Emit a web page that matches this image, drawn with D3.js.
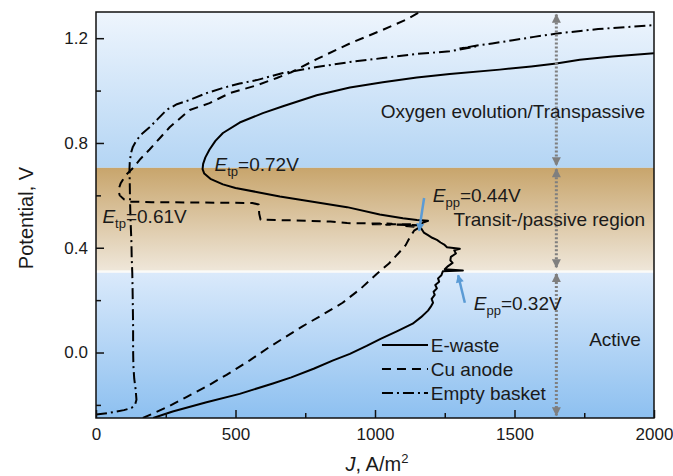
<!DOCTYPE html>
<html>
<head>
<meta charset="utf-8">
<script src="https://cdn.jsdelivr.net/npm/d3@7/dist/d3.min.js"></script>
<style>
  body { margin: 0; background: #fff; }
  text { font-family: "Liberation Sans", Arial, sans-serif; fill: #1a1a1a; }
</style>
</head>
<body>
<div id="chart"></div>
<script>
// polarisation curves, [J (A/m2), potential (V)]
var eWaste = [[205,-0.25],[275,-0.225],[396,-0.19],[515,-0.158],[634,-0.118],[700,-0.095],[780,-0.062],[850,-0.03],
  [910,-0.005],[970,0.025],[1020,0.052],[1080,0.082],[1135,0.11],[1165,0.135],[1190,0.16],[1200,0.175],[1208,0.19],
  [1203,0.205],[1214,0.22],[1210,0.232],[1222,0.245],[1216,0.258],[1230,0.27],[1226,0.283],[1238,0.295],[1243,0.31],
  [1315,0.313],[1250,0.318],[1262,0.33],[1278,0.342],[1270,0.352],[1272,0.365],[1290,0.378],[1284,0.39],[1304,0.396],
  [1258,0.402],[1248,0.412],[1235,0.42],[1222,0.43],[1205,0.438],[1190,0.448],[1175,0.458],[1168,0.47],[1160,0.482],
  [1170,0.495],[1190,0.503],[1150,0.506],[1100,0.513],[1017,0.527],[900,0.555],[777,0.576],[659,0.596],[575,0.613],
  [500,0.628],[455,0.642],[410,0.663],[388,0.683],[382,0.7],[384,0.72],[392,0.745],[407,0.775],[428,0.808],[455,0.838],
  [515,0.878],[598,0.914],[670,0.94],[791,0.982],[910,1.012],[1028,1.032],[1150,1.05],[1268,1.063],[1447,1.08],
  [1560,1.092],[1650,1.103],[1734,1.118],[1850,1.13],[2000,1.143]];

var cuAnode = [[168,-0.25],[252,-0.21],[324,-0.17],[396,-0.13],[468,-0.085],[551,-0.03],[620,0.02],[680,0.06],
  [740,0.1],[802,0.138],[884,0.19],[950,0.245],[1006,0.3],[1050,0.34],[1085,0.38],[1110,0.41],[1125,0.44],[1140,0.465],
  [1160,0.478],[1100,0.484],[1165,0.486],[1040,0.488],[1130,0.49],[980,0.49],[1060,0.492],[900,0.494],[840,0.5],
  [760,0.503],[680,0.505],[590,0.507],[585,0.53],[583,0.565],[560,0.571],[450,0.572],[320,0.573],[200,0.574],
  [125,0.576],[100,0.585],[85,0.6],[80,0.62],[88,0.645],[105,0.675],[133,0.705],[160,0.74],[192,0.775],[230,0.82],
  [264,0.86],[336,0.926],[407,0.952],[479,0.99],[576,1.02],[648,1.048],[700,1.07],[791,1.12],[910,1.18],[1028,1.232],
  [1114,1.272],[1160,1.3]];

var emptyBasket = [[0,-0.237],[40,-0.232],[100,-0.22],[127,-0.212],[140,-0.2],[145,-0.18],[142,-0.14],[137,-0.1],
  [134,-0.05],[133,0.01],[133,0.1],[132,0.175],[131,0.25],[130,0.305],[128,0.36],[127,0.42],[124,0.5],[122,0.58],
  [121,0.65],[120,0.7],[121,0.725],[125,0.76],[132,0.785],[145,0.81],[165,0.835],[192,0.86],[220,0.89],[253,0.926],
  [290,0.948],[335,0.964],[395,0.99],[455,1.01],[515,1.027],[576,1.04],[670,1.067],[791,1.09],[910,1.109],[1028,1.124],
  [1150,1.14],[1268,1.15],[1360,1.168],[1300,1.16],[1366,1.172],[1420,1.18],[1494,1.192],[1570,1.205],[1652,1.218],
  [1800,1.235],[2000,1.25]];

var seriesNames = ["E-waste", "Cu anode", "Empty basket"];
var xTicks = [0, 500, 1000, 1500, 2000];
var xMinor = [250, 750, 1250, 1750];
var yTicks = [0.0, 0.4, 0.8, 1.2];
var yMinor = [-0.2, 0.2, 0.6, 1.0];

// region limits (V) and where the range arrows sit
var regionTop = 0.705, regionBottom = 0.31;
var rangeJ = 1650;

var margin = {top: 12, right: 19, bottom: 58, left: 96},
    width = 673 - margin.left - margin.right,
    height = 476 - margin.top - margin.bottom;

var svg = d3.select("#chart").append("svg")
    .attr("width", 673)
    .attr("height", 476);

var defs = svg.append("defs");

function grad(id, c0, c1) {
  var g = defs.append("linearGradient").attr("id", id)
      .attr("x1", 0).attr("y1", 0).attr("x2", 0).attr("y2", 1);
  g.append("stop").attr("offset", "0%").attr("stop-color", c0);
  g.append("stop").attr("offset", "100%").attr("stop-color", c1);
}
grad("gUpper", "#eef5fd", "#b4d5f4");
grad("gBand", "#c8a56c", "#efe7da");
grad("gLower", "#dbeafb", "#8dc0f0");

defs.append("clipPath").attr("id", "plotClip")
  .append("rect").attr("width", width).attr("height", height);

function arrowMarker(id, color, w, h) {
  defs.append("marker").attr("id", id)
      .attr("viewBox", "0 0 10 10").attr("refX", 9).attr("refY", 5)
      .attr("markerUnits", "userSpaceOnUse")
      .attr("markerWidth", w).attr("markerHeight", h)
      .attr("orient", "auto-start-reverse")
    .append("path").attr("d", "M0,0L10,5L0,10Z").attr("fill", color);
}
arrowMarker("arrGray", "#7f7f7f", 10, 9);
arrowMarker("arrBlue", "#5b9bd5", 9, 8);

var g_body = svg.append("g").attr("transform", "translate(" + margin.left + "," + margin.top + ")");

var x = d3.scaleLinear().domain([0, 2000]).range([0, width]);
var y = d3.scaleLinear().domain([-0.25, 1.3]).range([height, 0]);

// background regions
g_body.append("rect").attr("x", 0).attr("width", width)
    .attr("y", 0).attr("height", y(regionTop)).attr("fill", "url(#gUpper)");
g_body.append("rect").attr("x", 0).attr("width", width)
    .attr("y", y(regionTop)).attr("height", y(regionBottom) - y(regionTop)).attr("fill", "url(#gBand)");
g_body.append("rect").attr("x", 0).attr("width", width)
    .attr("y", y(regionBottom)).attr("height", height - y(regionBottom)).attr("fill", "url(#gLower)");
g_body.append("rect").attr("x", 0).attr("width", width)
    .attr("y", y(regionBottom) - 1).attr("height", 2.5).attr("fill", "#fbfbf8");

// curves
var line = d3.line().x(function(d) { return x(d[0]); }).y(function(d) { return y(d[1]); });
var styles = [
  {data: eWaste, dash: null},
  {data: cuAnode, dash: "9,6"},
  {data: emptyBasket, dash: "11,4,2,4"}
];
var curves = g_body.append("g").attr("clip-path", "url(#plotClip)");
styles.forEach(function(s) {
  curves.append("path").datum(s.data)
      .attr("d", line)
      .attr("fill", "none")
      .attr("stroke", "#000")
      .attr("stroke-width", 2)
      .attr("stroke-linejoin", "round")
      .attr("stroke-dasharray", s.dash);
});

// gray dotted range arrows
var ranges = [[1.29, regionTop + 0.01], [regionTop - 0.005, regionBottom + 0.015], [regionBottom - 0.01, -0.24]];
ranges.forEach(function(r) {
  g_body.append("line")
      .attr("x1", x(rangeJ)).attr("x2", x(rangeJ))
      .attr("y1", y(r[0])).attr("y2", y(r[1]))
      .attr("stroke", "#7f7f7f").attr("stroke-width", 3)
      .attr("stroke-dasharray", "2,2")
      .attr("marker-start", "url(#arrGray)")
      .attr("marker-end", "url(#arrGray)");
});

// blue arrows at passivation potentials
var blueArrows = [[[1176, 0.59], [1158, 0.465]], [[1322, 0.19], [1298, 0.295]]];
blueArrows.forEach(function(a) {
  g_body.append("line")
      .attr("x1", x(a[0][0])).attr("y1", y(a[0][1]))
      .attr("x2", x(a[1][0])).attr("y2", y(a[1][1]))
      .attr("stroke", "#5b9bd5").attr("stroke-width", 2.5)
      .attr("marker-end", "url(#arrBlue)");
});

// region labels
function label(txt, j, v, anchor) {
  g_body.append("text").attr("x", x(j)).attr("y", y(v))
      .attr("font-size", 19).attr("text-anchor", anchor).text(txt);
}
label("Oxygen evolution/Transpassive", 1968, 0.895, "end");
label("Transit-/passive region", 1968, 0.482, "end");
label("Active", 1953, 0.023, "end");

// potential labels with subscripts
function eLabel(sub, val, j, v) {
  var t = g_body.append("text").attr("x", x(j)).attr("y", y(v)).attr("font-size", 19);
  t.append("tspan").attr("font-style", "italic").text("E");
  t.append("tspan").attr("font-size", 13).attr("dy", 5).text(sub);
  t.append("tspan").attr("dy", -5).text("=" + val);
}
eLabel("tp", "0.72V", 425, 0.693);
eLabel("tp", "0.61V", 23, 0.495);
eLabel("pp", "0.44V", 1207, 0.575);
eLabel("pp", "0.32V", 1354, 0.164);

// legend
var legend = g_body.append("g");
seriesNames.forEach(function(name, i) {
  var ly = 345 - margin.top + i * 24;
  legend.append("line")
      .attr("x1", x(1025)).attr("x2", x(1190))
      .attr("y1", ly).attr("y2", ly)
      .attr("stroke", "#000").attr("stroke-width", 2)
      .attr("stroke-dasharray", styles[i].dash);
  legend.append("text")
      .attr("x", x(1200)).attr("y", ly + 7)
      .attr("font-size", 19).text(name);
});

// axes
var xAxis = g_body.append("g").attr("transform", "translate(0," + height + ")")
    .call(d3.axisBottom(x).tickValues(xTicks).tickSize(-8).tickPadding(10).tickFormat(d3.format("d")));
var xAxisMinor = g_body.append("g").attr("transform", "translate(0," + height + ")")
    .call(d3.axisBottom(x).tickValues(xMinor).tickSize(-5).tickFormat(""));
var yAxis = g_body.append("g")
    .call(d3.axisLeft(y).tickValues(yTicks).tickSize(-8).tickPadding(8).tickFormat(d3.format(".1f")));
var yAxisMinor = g_body.append("g")
    .call(d3.axisLeft(y).tickValues(yMinor).tickSize(-5).tickFormat(""));

[xAxis, xAxisMinor, yAxis, yAxisMinor].forEach(function(a) {
  a.select(".domain").remove();
  a.selectAll("line").attr("stroke", "#111").attr("stroke-width", 1.5);
  a.selectAll("text").attr("font-size", 17).attr("fill", "#1a1a1a")
      .style("font-family", "'Liberation Sans', Arial, sans-serif");
});

g_body.append("rect").attr("width", width).attr("height", height)
    .attr("fill", "none").attr("stroke", "#111").attr("stroke-width", 1.5);

// axis titles
svg.append("text")
    .attr("transform", "translate(33," + (margin.top + height / 2 + 3) + ") rotate(-90)")
    .attr("text-anchor", "middle").attr("font-size", 20)
    .text("Potential, V");

var xt = svg.append("text")
    .attr("x", margin.left + width / 2 + 2).attr("y", 471)
    .attr("text-anchor", "middle").attr("font-size", 20);
xt.append("tspan").attr("font-style", "italic").text("J");
xt.append("tspan").text(", A/m");
xt.append("tspan").attr("font-size", 13).attr("dy", -8).text("2");
</script>
</body>
</html>
